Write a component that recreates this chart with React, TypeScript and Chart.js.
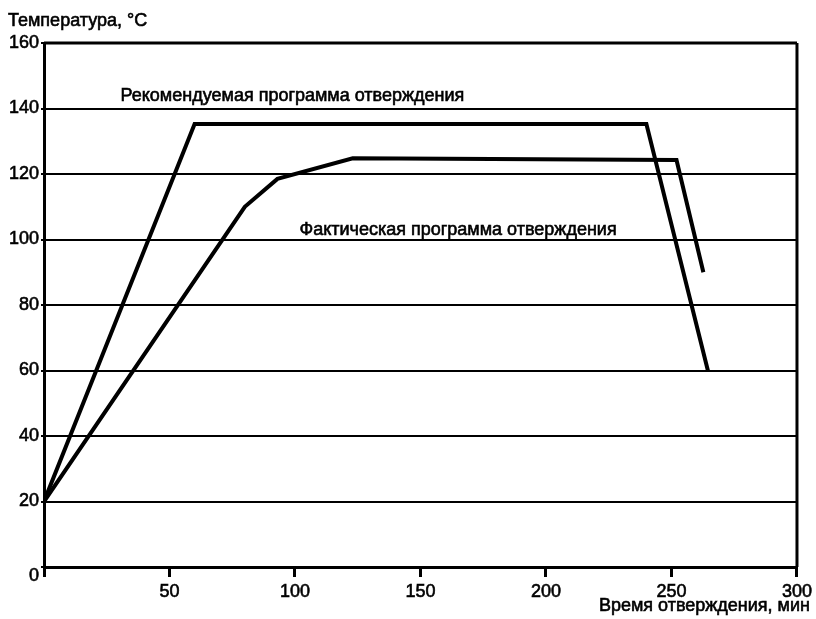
import React, { useEffect, useRef } from "react";
import { Chart, registerables } from "chart.js";

Chart.register(...registerables);

const recommendedX = [0, 60, 240, 264.5];
const recommendedY = [20, 135.3, 135.3, 60];
const actualX = [0, 80, 93, 123, 252, 262.7];
const actualY = [20, 110, 118.5, 124.8, 124.3, 90];
const xTicks = [0, 50, 100, 150, 200, 250, 300];
const yTicks = [0, 20, 40, 60, 80, 100, 120, 140, 160];

const yTitle = "Температура, °C";
const xTitle = "Время отверждения, мин";
const labels = [
  { text: "Рекомендуемая программа отверждения", x: 30.5, y: 143.8 },
  { text: "Фактическая программа отверждения", x: 101.8, y: 103.0 },
];

const FONT = "'Liberation Sans', Arial, sans-serif";
const SIZE = 18;
const STROKE = 0.6;

export default function App() {
  const ref = useRef<HTMLCanvasElement | null>(null);
  useEffect(() => {
    if (!ref.current) return;
    const deco = {
      id: "deco",
      afterDraw(chart: any) {
        const { ctx, chartArea: a, scales } = chart;
        ctx.save();
        ctx.strokeStyle = "#000";
        ctx.lineWidth = 3;
        ctx.beginPath();
        ctx.moveTo(a.left, a.top);
        ctx.lineTo(a.right, a.top);
        ctx.moveTo(a.right, a.top);
        ctx.lineTo(a.right, a.bottom);
        ctx.stroke();
        ctx.fillStyle = "#000";
        ctx.lineWidth = STROKE;
        ctx.font = `${SIZE}px ${FONT}`;
        ctx.textBaseline = "middle";
        const txt = (t: string, x: number, y: number, align: CanvasTextAlign) => {
          ctx.textAlign = align;
          ctx.fillText(t, x, y);
          ctx.strokeText(t, x, y);
        };
        txt(yTitle, 8, 21, "left");
        txt(xTitle, a.right + 13, 606, "right");
        // shared origin label "0", set slightly below the corner
        txt(String(yTicks[0]), a.left - 5, scales.y.getPixelForValue(yTicks[0]) + 9, "right");
        for (const l of labels) {
          txt(l.text, scales.x.getPixelForValue(l.x), scales.y.getPixelForValue(l.y), "left");
        }
        ctx.restore();
      },
    };
    const chart = new Chart(ref.current, {
      type: "line",
      data: {
        datasets: [
          {
            data: recommendedX.map((x, i) => ({ x, y: recommendedY[i] })),
            borderColor: "#000",
            borderWidth: 4,
            pointRadius: 0,
            tension: 0,
            borderJoinStyle: "miter",
          },
          {
            data: actualX.map((x, i) => ({ x, y: actualY[i] })),
            borderColor: "#000",
            borderWidth: 4,
            pointRadius: 0,
            tension: 0,
            borderJoinStyle: "miter",
          },
        ],
      },
      options: {
        animation: false,
        responsive: false,
        events: [],
        layout: { padding: { left: 0, top: 43, right: 19, bottom: 0 } },
        plugins: { legend: { display: false }, tooltip: { enabled: false }, title: { display: false } },
        scales: {
          x: {
            type: "linear",
            min: 0,
            max: 300,
            afterBuildTicks: (s: any) => {
              s.ticks = xTicks.map((v) => ({ value: v }));
            },
            afterFit: (s: any) => {
              s.height = 52;
            },
            ticks: {
              color: "#000",
              font: { family: FONT, size: SIZE },
              textStrokeColor: "#000",
              textStrokeWidth: STROKE,
              padding: 4,
              maxRotation: 0,
              callback: (v: any) => (v === 0 ? "" : String(v)),
            },
            grid: { drawOnChartArea: false, drawTicks: true, tickLength: 10, color: "#000", lineWidth: 3 },
            border: { color: "#000", width: 3 },
          },
          y: {
            type: "linear",
            min: 0,
            max: 160,
            afterBuildTicks: (s: any) => {
              s.ticks = yTicks.map((v) => ({ value: v }));
            },
            afterFit: (s: any) => {
              s.width = 44;
            },
            ticks: {
              color: "#000",
              font: { family: FONT, size: SIZE },
              textStrokeColor: "#000",
              textStrokeWidth: STROKE,
              padding: 2,
              callback: (v: any) => (v === 0 ? "" : String(v)),
            },
            grid: { drawTicks: true, tickLength: 3, color: "#000", lineWidth: 2 },
            border: { color: "#000", width: 3 },
          },
        },
      },
      plugins: [deco],
    } as any);
    return () => chart.destroy();
  }, []);
  return (
    <div style={{ position: "fixed", left: 0, top: 0, width: 816, height: 619, background: "#fff" }}>
      <canvas ref={ref} width={816} height={619} style={{ width: 816, height: 619, display: "block" }} />
    </div>
  );
}
